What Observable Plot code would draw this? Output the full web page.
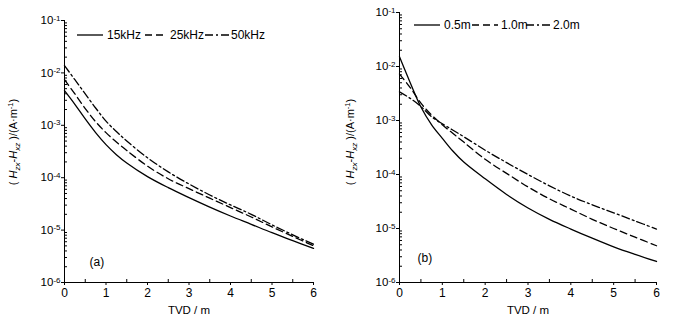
<!DOCTYPE html>
<html><head><meta charset="utf-8">
<script src="https://cdn.jsdelivr.net/npm/d3@7"></script>
<script src="https://cdn.jsdelivr.net/npm/@observablehq/plot@0.6"></script>
<style>
body{margin:0;background:#fff;}
#wrap{position:relative;width:674px;height:324px;overflow:hidden;background:#fff;}
#wrap svg{position:absolute;top:0;}
</style></head><body><div id="wrap"></div>
<script>
// ---- data ----
const tvd = [0,0.25,0.5,0.75,1,1.25,1.5,2,2.5,3,3.5,4,4.5,5,5.5,6];
// panel (a): frequencies
const seriesA = ["15kHz","25kHz","50kHz"];
const a15 = [4.57e-3,2.51e-3,1.32e-3,7.24e-4,4.27e-4,2.75e-4,1.91e-4,1.05e-4,6.46e-5,4.17e-5,2.75e-5,1.86e-5,1.29e-5,8.91e-6,6.31e-6,4.47e-6];
const a25 = [7.41e-3,3.98e-3,2.09e-3,1.17e-3,7.24e-4,4.79e-4,3.31e-4,1.66e-4,9.55e-5,6.17e-5,4.07e-5,2.69e-5,1.78e-5,1.15e-5,7.59e-6,5.01e-6];
const a50 = [1.38e-2,7.41e-3,3.98e-3,2.14e-3,1.20e-3,7.59e-4,5.01e-4,2.40e-4,1.29e-4,7.59e-5,4.68e-5,3.02e-5,2.00e-5,1.26e-5,8.13e-6,5.37e-6];
// panel (b): spacings
const seriesB = ["0.5m","1.0m","2.0m"];
const b05 = [1.51e-2,5.01e-3,1.78e-3,8.32e-4,4.68e-4,2.69e-4,1.70e-4,8.32e-5,4.27e-5,2.40e-5,1.48e-5,9.77e-6,6.61e-6,4.57e-6,3.31e-6,2.45e-6];
const b10 = [7.24e-3,4.07e-3,2.09e-3,1.26e-3,8.32e-4,5.75e-4,3.98e-4,1.91e-4,1.05e-4,5.89e-5,3.55e-5,2.29e-5,1.48e-5,1.00e-5,6.92e-6,4.79e-6];
const b20 = [3.39e-3,2.57e-3,1.82e-3,1.17e-3,8.71e-4,6.61e-4,5.01e-4,2.82e-4,1.66e-4,1.00e-4,6.17e-5,3.98e-5,2.75e-5,1.95e-5,1.38e-5,9.77e-6];
// ticks
const xTicks = [0,1,2,3,4,5,6];
const xMinor = [0.5,1.5,2.5,3.5,4.5,5.5];
const yExps = [-1,-2,-3,-4,-5,-6];
const yTicks = yExps.map(e => Math.pow(10, e));
const yMinor = [];
for (let e = -6; e <= -2; e++) for (let k = 2; k <= 9; k++) yMinor.push(k * Math.pow(10, e));

const dashes = [null, "7,4", "8,3,2,3"];
const FONT = "Liberation Sans, Arial, sans-serif";

function rows(series, arrays) {
  return series.map((s, i) => tvd.map((t, j) => ({tvd: t, value: arrays[i][j], series: s})));
}

function panel(opts) {
  const data = rows(opts.series, opts.arrays);
  const lines = data.map((d, i) => Plot.line(d, {
    x: "tvd", y: "value", stroke: "#000", strokeWidth: 1.3,
    strokeDasharray: dashes[i], curve: "catmull-rom"
  }));
  const svg = Plot.plot({
    width: opts.width, height: 324,
    marginLeft: opts.ml, marginRight: opts.mr, marginTop: opts.mt, marginBottom: 42,
    style: {fontFamily: FONT, fontSize: "11.5px", background: "transparent", color: "#000"},
    x: {domain: [0, 6]},
    y: {type: "log", domain: [1e-6, 1e-1]},
    marks: [
      Plot.ruleX([0], {stroke: "#000", strokeWidth: 1}),
      Plot.ruleY([1e-6], {stroke: "#000", strokeWidth: 1}),
      Plot.axisY({ticks: yTicks, tickSize: 3, tickPadding: 1, tickFormat: d => "10^" + Math.round(Math.log10(d)), label: null, fontSize: 11.5}),
      Plot.axisY({ticks: yMinor, tickSize: -3, tickFormat: () => "", label: null}),
      Plot.axisX({ticks: xTicks, tickSize: 3, tickPadding: 3, tickFormat: d => String(d), label: null, fontSize: 12}),
      Plot.axisX({ticks: xMinor, tickSize: -3, tickFormat: () => "", label: null}),
      ...lines,
      Plot.text(["TVD / m"], {frameAnchor: "bottom", dy: 28, text: d => d, fontSize: 11.5, lineAnchor: "middle"}),
      Plot.text([opts.tag], {frameAnchor: "bottom-left", dx: opts.tagDx, dy: opts.tagDy, text: d => d, fontSize: 12, textAnchor: "start", lineAnchor: "middle"})
    ]
  });
  svg.style.left = opts.left + "px";
  const s = d3.select(svg);
  // superscript exponents on tick labels
  s.selectAll("text").each(function() {
    const t = this.textContent;
    const m = /^10\^(-?\d+)$/.exec(t);
    if (m) {
      const el = d3.select(this);
      el.text("10");
      el.append("tspan").attr("dy", "-0.45em").attr("font-size", "8px").text(m[1]);
    }
  });
  // y-axis title
  const yl = s.append("text")
    .attr("transform", `translate(${opts.ylx},${opts.yly}) rotate(-90)`)
    .attr("text-anchor", "middle").attr("font-family", FONT).attr("font-size", "11px").attr("fill", "#000");
  yl.append("tspan").text("( ");
  yl.append("tspan").attr("font-style", "italic").text("H");
  yl.append("tspan").attr("font-style", "italic").attr("font-size", "8px").attr("dy", 3).text("zx");
  yl.append("tspan").attr("dy", -3).text("-");
  yl.append("tspan").attr("font-style", "italic").text("H");
  yl.append("tspan").attr("font-style", "italic").attr("font-size", "8px").attr("dy", 3).text("xz");
  yl.append("tspan").attr("dy", -3).text(" )/(A·m");
  yl.append("tspan").attr("font-size", "7.5px").attr("dy", -4).text("-1");
  yl.append("tspan").attr("dy", 4).text(")");
  // legend
  const lg = s.append("g").attr("font-family", FONT).attr("font-size", "12px").attr("text-anchor", "start");
  opts.legend.forEach((it, i) => {
    lg.append("line").attr("x1", it.x1).attr("x2", it.x2).attr("y1", opts.legY).attr("y2", opts.legY)
      .attr("stroke", "#000").attr("stroke-width", 1.3).attr("stroke-dasharray", dashes[i]);
    lg.append("text").attr("x", it.tx).attr("y", opts.legY).attr("dy", "0.35em")
      .attr("text-anchor", "start").attr("fill", "#000").text(opts.series[i]);
  });
  document.getElementById("wrap").appendChild(svg);
}

panel({
  series: seriesA, arrays: [a15, a25, a50], left: 0, width: 337,
  ml: 64, mr: 24, mt: 20, tag: "(a)", tagDx: 25, tagDy: -20,
  ylx: 17, yly: 142, legY: 35,
  legend: [{x1: 77, x2: 103, tx: 107}, {x1: 145, x2: 167, tx: 170}, {x1: 205, x2: 229, tx: 231}]
});
panel({
  series: seriesB, arrays: [b05, b10, b20], left: 337, width: 337,
  ml: 62, mr: 18, mt: 12, tag: "(b)", tagDx: 18, tagDy: -24,
  ylx: 17, yly: 142, legY: 25,
  legend: [{x1: 77, x2: 103, tx: 107}, {x1: 135, x2: 161, tx: 164}, {x1: 189, x2: 214, tx: 216}]
});
</script></body></html>
